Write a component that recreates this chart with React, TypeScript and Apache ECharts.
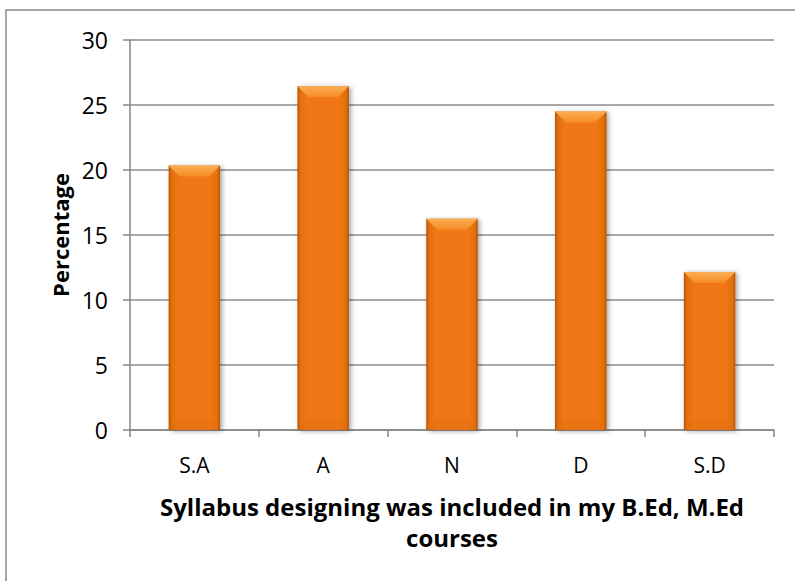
import React, { useEffect, useRef } from "react";
import * as echarts from "echarts";

const categories = ["S.A", "A", "N", "D", "S.D"];
const percentages = [20.35, 26.45, 16.25, 24.5, 12.15];
const yTicks = { min: 0, max: 30, interval: 5 };
const yAxisTitle = "Percentage";
const xAxisTitle = "Syllabus designing was included in my B.Ed, M.Ed\ncourses";

const FONT = "'Open Sans', sans-serif";

export default function App() {
  const ref = useRef<HTMLDivElement>(null);
  useEffect(() => {
    if (!ref.current) return;
    const chart = echarts.init(ref.current, undefined, { renderer: "svg" });
    chart.setOption({
      animation: false,
      backgroundColor: "#ffffff",
      graphic: [
        {
          type: "rect",
          shape: { x: 6, y: 10, width: 900, height: 700 },
          style: { fill: "none", stroke: "#8a8a8a", lineWidth: 1.5 },
          silent: true,
          z: 0,
        },
      ],
      grid: { left: 130, right: 21, top: 40, bottom: 151 },
      xAxis: {
        type: "category",
        data: categories,
        boundaryGap: true,
        axisLine: { lineStyle: { color: "#868686", width: 1.5 } },
        axisTick: { show: true, length: 7, alignWithLabel: false, lineStyle: { color: "#868686", width: 1.5 } },
        axisLabel: { color: "#000", fontSize: 21, fontFamily: FONT, margin: 24 },
        name: xAxisTitle,
        nameLocation: "middle",
        nameGap: 61,
        nameTextStyle: { color: "#000", fontSize: 24, fontWeight: "bold", fontFamily: FONT, lineHeight: 31 },
      },
      yAxis: {
        type: "value",
        min: yTicks.min,
        max: yTicks.max,
        interval: yTicks.interval,
        axisLine: { show: true, lineStyle: { color: "#868686", width: 1.5 } },
        axisTick: { show: true, length: 7, lineStyle: { color: "#868686", width: 1.5 } },
        splitLine: { show: true, lineStyle: { color: "#8c8c8c", width: 1.5 } },
        axisLabel: { color: "#000", fontSize: 23, fontFamily: FONT, margin: 22 },
        name: yAxisTitle,
        nameLocation: "middle",
        nameGap: 59,
        nameTextStyle: { color: "#000", fontSize: 22, fontWeight: "bold", fontFamily: FONT },
      },
      series: [
        {
          type: "custom",
          data: percentages.map((v, i) => [i, v]),
          encode: { x: 0, y: 1 },
          renderItem: (params: any, api: any) => {
            const idx = api.value(0);
            const val = api.value(1);
            const top = api.coord([idx, val]);
            const base = api.coord([idx, 0]);
            const band = api.size([1, 0])[0];
            const w = band * 0.4;
            const x = top[0] - w / 2;
            const y = top[1];
            const h = base[1] - top[1];
            const bev = 11;
            return {
              type: "group",
              children: [
                {
                  type: "rect",
                  shape: { x: x, y: y, width: w, height: h },
                  style: {
                    fill: new echarts.graphic.LinearGradient(0, 0, 1, 0, [
                      { offset: 0, color: "#b4540b" },
                      { offset: 0.06, color: "#e2700f" },
                      { offset: 0.18, color: "#f07612" },
                      { offset: 0.82, color: "#f07612" },
                      { offset: 0.94, color: "#e2700f" },
                      { offset: 1, color: "#b4540b" },
                    ]),
                    shadowBlur: 5,
                    shadowOffsetX: 2,
                    shadowOffsetY: 1,
                    shadowColor: "rgba(0,0,0,0.35)",
                  },
                },
                {
                  type: "polygon",
                  shape: {
                    points: [
                      [x, y],
                      [x + w, y],
                      [x + w - bev, y + bev],
                      [x + bev, y + bev],
                    ],
                  },
                  style: {
                    fill: new echarts.graphic.LinearGradient(0, 0, 0, 1, [
                      { offset: 0, color: "#fbb055" },
                      { offset: 1, color: "#f58a25" },
                    ]),
                  },
                },
                {
                  type: "polygon",
                  shape: {
                    points: [
                      [x + bev, base[1] - bev],
                      [x + w - bev, base[1] - bev],
                      [x + w, base[1]],
                      [x, base[1]],
                    ],
                  },
                  style: { fill: "rgba(200,100,15,0.15)" },
                },
              ],
            };
          },
        },
      ],
    });
    return () => chart.dispose();
  }, []);
  return (
    <div
      ref={ref}
      style={{ position: "absolute", left: 0, top: 0, width: 795, height: 581, background: "#fff" }}
    />
  );
}
